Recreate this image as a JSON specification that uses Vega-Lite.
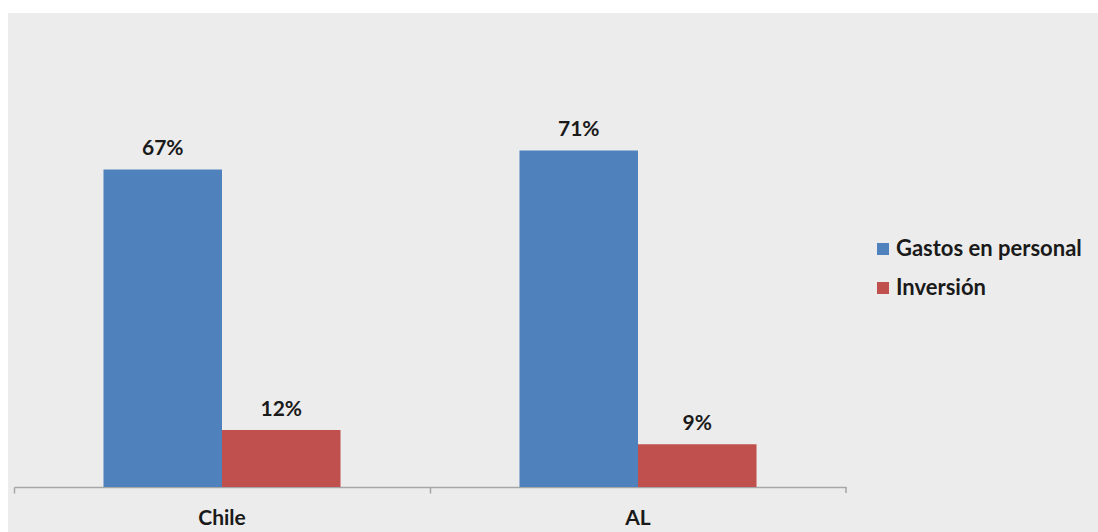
{
  "$schema": "https://vega.github.io/schema/vega-lite/v6.json",
  "autosize": {"type": "none"},
  "padding": {"left": 8, "top": 13, "right": 0, "bottom": 0},
  "width": 1090,
  "height": 519,
  "background": "white",
  "config": {
    "view": {"fill": "#ececec", "stroke": null},
    "font": "Lato",
    "text": {"font": "Lato"}
  },
  "data": {
    "values": [
      {"region": "Chile", "concepto": "Gastos en personal", "share": 0.67},
      {"region": "Chile", "concepto": "Inversión", "share": 0.12},
      {"region": "AL", "concepto": "Gastos en personal", "share": 0.71},
      {"region": "AL", "concepto": "Inversión", "share": 0.09}
    ]
  },
  "encoding": {
    "x": {
      "field": "region",
      "type": "nominal",
      "sort": ["Chile", "AL"],
      "scale": {"range": [6, 838], "paddingInner": 0, "paddingOuter": 0},
      "axis": {
        "title": null,
        "offset": -45,
        "bandPosition": 0,
        "domainColor": "#a6a6a6",
        "domainWidth": 1.5,
        "tickColor": "#a6a6a6",
        "tickWidth": 1.5,
        "tickSize": 6,
        "labelAngle": 0,
        "labelFont": "Lato",
        "labelFontWeight": "bold",
        "labelFontSize": 21,
        "labelColor": "#1a1a1a",
        "labelPadding": 14,
        "grid": false
      }
    },
    "y": {
      "field": "share",
      "type": "quantitative",
      "scale": {"domain": [0, 1], "range": [474, 0], "nice": false},
      "axis": null
    }
  },
  "layer": [
    {
      "mark": {"type": "bar"},
      "encoding": {
        "xOffset": {
          "field": "concepto",
          "type": "nominal",
          "sort": ["Gastos en personal", "Inversión"],
          "scale": {"paddingInner": 0, "paddingOuter": 0.755}
        },
        "color": {
          "field": "concepto",
          "type": "nominal",
          "sort": ["Gastos en personal", "Inversión"],
          "scale": {"range": ["#4f81bd", "#c0504d"]},
          "legend": {
            "title": null,
            "orient": "none",
            "legendX": 864,
            "legendY": 225,
            "symbolType": "square",
            "symbolSize": 144,
            "symbolStrokeWidth": 0,
            "labelFont": "Lato",
            "labelFontWeight": "bold",
            "labelFontSize": 22,
            "labelColor": "#1a1a1a",
            "labelOffset": 2,
            "labelLimit": 300,
            "rowPadding": 17
          }
        }
      }
    },
    {
      "mark": {
        "type": "text",
        "baseline": "alphabetic",
        "dy": -14,
        "fontWeight": "bold",
        "fontSize": 21,
        "color": "#1a1a1a"
      },
      "encoding": {
        "xOffset": {
          "field": "concepto",
          "type": "nominal",
          "sort": ["Gastos en personal", "Inversión"],
          "scale": {"paddingInner": 0, "paddingOuter": 0.755}
        },
        "text": {"field": "share", "type": "quantitative", "format": ".0%"}
      }
    },
    {
      "transform": [{"filter": "datum.region === 'AL' && datum.concepto === 'Inversión'"}],
      "mark": {"type": "rule", "color": "#a6a6a6", "strokeWidth": 1.5},
      "encoding": {
        "x": {"field": "region", "type": "nominal", "bandPosition": 1},
        "y": {"datum": 0},
        "y2": {"datum": -0.0127}
      }
    }
  ]
}
